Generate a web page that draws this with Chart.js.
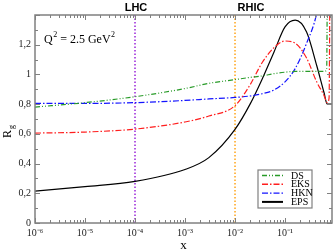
<!DOCTYPE html>
<html>
<head>
<meta charset="utf-8">
<script src="https://cdn.jsdelivr.net/npm/chart.js@4.4.0/dist/chart.umd.min.js"></script>
<style>
    html, body { margin: 0; padding: 0; background: #fff; }
    #wrap { width: 334px; height: 251px; position: relative; }
</style>
</head>
<body>
<div id="wrap"><canvas id="rgChart"></canvas></div>
<script>
// DS (green, dash-dot-dot)
const dsX = [1e-6, 1e-5, 1e-4, 1e-3, 3e-3, 0.01, 0.02, 0.035, 0.06, 0.1, 0.16, 0.27, 0.43, 0.6, 0.68, 0.71];
const dsY = [0.78, 0.81, 0.85, 0.905, 0.94, 0.965, 0.98, 0.99, 1.005, 1.015, 1.02, 1.02, 1.02, 1.02, 1.03, 2.0];
// EKS (red, dash-dot)
const eksX = [1e-6, 1e-5, 1e-4, 1e-3, 3e-3, 0.01, 0.02, 0.035, 0.06, 0.1, 0.16, 0.27, 0.43, 0.6, 0.7, 0.76, 0.8];
const eksY = [0.605, 0.612, 0.632, 0.68, 0.72, 0.79, 0.93, 1.08, 1.18, 1.225, 1.21, 1.11, 0.95, 0.86, 0.81, 0.84, 2.0];
// HKN (blue, dash-dot)
const hknX = [1e-6, 1e-5, 1e-4, 1e-3, 3e-3, 0.01, 0.02, 0.035, 0.06, 0.1, 0.16, 0.27, 0.43, 0.6, 0.87];
const hknY = [0.805, 0.805, 0.81, 0.825, 0.835, 0.845, 0.855, 0.87, 0.895, 0.95, 1.04, 1.21, 1.41, 1.7, 2.0];
// EPS (black, solid)
const epsX = [1e-6, 1e-5, 1e-4, 1e-3, 3e-3, 0.01, 0.02, 0.035, 0.06, 0.1, 0.16, 0.27, 0.43, 0.6, 0.7, 0.8, 0.87];
const epsY = [0.215, 0.245, 0.28, 0.36, 0.44, 0.63, 0.80, 0.97, 1.15, 1.32, 1.365, 1.285, 1.06, 0.88, 0.80, 0.80, 0.80];

const seriesNames = ['DS', 'EKS', 'HKN', 'EPS'];
const seriesColors = ['rgb(40,155,40)', 'rgb(255,30,30)', 'rgb(20,20,255)', '#000'];
const seriesDashes = [[5, 2, 1, 2, 1, 2], [6, 2, 1.5, 2], [6, 2, 1.5, 2], []];

// reference lines
const lhcX = 1e-4;
const rhicX = 1e-2;

const xTickValues = [1e-6, 1e-5, 1e-4, 1e-3, 1e-2, 1e-1];
const xTickLabels = ['10⁻⁶', '10⁻⁵', '10⁻⁴', '10⁻³', '10⁻²', '10⁻¹'];
const yTickValues = [0, 0.2, 0.4, 0.6, 0.8, 1.0, 1.2];
const yTickLabels = ['0', '0,2', '0,4', '0,6', '0,8', '1', '1,2'];

const xs = [dsX, eksX, hknX, epsX];
const ys = [dsY, eksY, hknY, epsY];

const frameColor = '#808080';

function toPoints(xa, ya) {
    return xa.map((x, i) => ({ x: x, y: ya[i] }));
}

const curveSets = seriesNames.map((name, i) => ({
    label: name,
    data: toPoints(xs[i], ys[i]),
    borderColor: seriesColors[i],
    borderDash: seriesDashes[i],
    borderWidth: 1.2,
    pointRadius: 0,
    fill: false,
    cubicInterpolationMode: 'monotone'
}));

const vlineSets = [
    { label: 'LHC', x: lhcX, color: 'rgb(160,50,220)' },
    { label: 'RHIC', x: rhicX, color: 'rgb(255,170,40)' }
].map(v => ({
    label: v.label,
    isMarker: true,
    data: [{ x: v.x, y: 0 }, { x: v.x, y: 1.4 }],
    borderColor: v.color,
    borderDash: [1.5, 2],
    borderWidth: 1.6,
    pointRadius: 0,
    fill: false
}));

// frame, inward ticks, annotations and legend
const decorPlugin = {
    id: 'decor',
    afterDatasetsDraw(chart) {
        const ctx = chart.ctx;
        const area = chart.chartArea;
        const xs_ = chart.scales.x;
        const ys_ = chart.scales.y;
        ctx.save();
        ctx.strokeStyle = frameColor;
        ctx.lineWidth = 1;

        // x ticks (major decades, minor 2..9)
        for (let e = -6; e <= 0; e++) {
            for (let m = 1; m <= 9; m++) {
                const v = m * Math.pow(10, e);
                if (v < xs_.min || v > xs_.max) continue;
                const px = Math.round(xs_.getPixelForValue(v)) + 0.5;
                const len = m === 1 ? 5 : 3;
                ctx.beginPath();
                ctx.moveTo(px, area.bottom); ctx.lineTo(px, area.bottom - len);
                ctx.moveTo(px, area.top); ctx.lineTo(px, area.top + len);
                ctx.stroke();
            }
        }
        // y ticks every 0.1
        for (let k = 0; k <= 14; k++) {
            const py = Math.round(ys_.getPixelForValue(k / 10)) + 0.5;
            const len = k % 2 === 0 ? 5 : 3;
            ctx.beginPath();
            ctx.moveTo(area.left, py); ctx.lineTo(area.left + len, py);
            ctx.moveTo(area.right, py); ctx.lineTo(area.right - len, py);
            ctx.stroke();
        }
        ctx.lineWidth = 1.5;
        ctx.strokeRect(area.left, area.top, area.right - area.left, area.bottom - area.top);

        // labels above the plot
        ctx.fillStyle = '#000';
        ctx.font = 'bold 11px "Liberation Sans", Arial, sans-serif';
        ctx.textBaseline = 'alphabetic';
        ctx.textAlign = 'center';
        ctx.fillText('LHC', xs_.getPixelForValue(lhcX) + 1, 11);
        ctx.fillText('RHIC', xs_.getPixelForValue(rhicX) + 16, 11);

        // Q^2 annotation
        ctx.textAlign = 'left';
        let tx = 44;
        const big = '12px "Liberation Serif", serif';
        const small = '8px "Liberation Serif", serif';
        ctx.font = big; ctx.fillText('Q', tx, 43); tx += ctx.measureText('Q').width;
        ctx.font = small; ctx.fillText('2', tx + 0.5, 37); tx += ctx.measureText('2').width + 0.5;
        ctx.font = big; ctx.fillText(' = 2.5 GeV', tx, 43); tx += ctx.measureText(' = 2.5 GeV').width;
        ctx.font = small; ctx.fillText('2', tx + 0.5, 37);

        // axis titles
        ctx.font = '13px "Liberation Serif", serif';
        ctx.textAlign = 'center';
        ctx.fillText('x', (area.left + area.right) / 2, 249);
        ctx.save();
        ctx.translate(11, 138);
        ctx.rotate(-Math.PI / 2);
        ctx.textAlign = 'left';
        ctx.font = '12px "Liberation Serif", serif';
        ctx.fillText('R', 0, 0);
        const rw = ctx.measureText('R').width;
        ctx.font = '8px "Liberation Serif", serif';
        ctx.fillText('g', rw + 1, 3);
        ctx.restore();

        // legend box
        const lx = 258, ly = 170, lw = 54, lh = 38;
        ctx.fillStyle = '#fff';
        ctx.fillRect(lx, ly, lw, lh);
        ctx.strokeStyle = frameColor;
        ctx.lineWidth = 1.2;
        ctx.strokeRect(lx, ly, lw, lh);
        ctx.font = '10px "Liberation Serif", serif';
        ctx.textAlign = 'left';
        ctx.textBaseline = 'middle';
        chart.data.datasets.filter(d => !d.isMarker).forEach((d, i) => {
            const ry = ly + 5.5 + i * 8.8;
            ctx.strokeStyle = d.borderColor;
            ctx.lineWidth = d.borderDash.length ? 1.4 : 2;
            ctx.setLineDash(d.borderDash);
            ctx.beginPath();
            ctx.moveTo(lx + 4, ry); ctx.lineTo(lx + 25, ry);
            ctx.stroke();
            ctx.setLineDash([]);
            ctx.fillStyle = '#000';
            ctx.fillText(d.label, lx + 33, ry + 0.5);
        });
        ctx.restore();
    }
};

new Chart(document.getElementById('rgChart'), {
    type: 'line',
    data: { datasets: curveSets.concat(vlineSets) },
    options: {
        responsive: true,
        maintainAspectRatio: false,
        animation: false,
        layout: { padding: { top: 15, right: 2, left: 0, bottom: 0 } },
        plugins: { legend: { display: false }, tooltip: { enabled: false } },
        scales: {
            x: {
                type: 'logarithmic',
                min: 1e-6,
                max: 0.87,
                grid: { display: false, drawTicks: false },
                border: { display: false },
                afterBuildTicks: scale => { scale.ticks = xTickValues.map(v => ({ value: v })); },
                afterFit: scale => { scale.height = 28; },
                ticks: {
                    autoSkip: false,
                    maxRotation: 0,
                    padding: 4,
                    color: '#222',
                    font: { family: '"Liberation Serif", serif', size: 10 },
                    callback: (v, i) => xTickLabels[i]
                }
            },
            y: {
                type: 'linear',
                min: 0,
                max: 1.4,
                grid: { display: false, drawTicks: false },
                border: { display: false },
                afterBuildTicks: scale => { scale.ticks = yTickValues.map(v => ({ value: v })); },
                afterFit: scale => { scale.width = 35; },
                ticks: {
                    padding: 4,
                    color: '#222',
                    font: { family: '"Liberation Serif", serif', size: 10 },
                    callback: (v, i) => yTickLabels[i]
                }
            }
        }
    },
    plugins: [decorPlugin]
});
</script>
</body>
</html>
